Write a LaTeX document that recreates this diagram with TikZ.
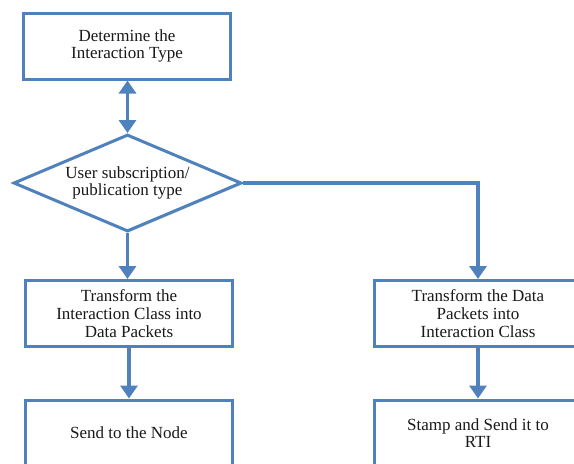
\documentclass[tikz,border=0pt]{standalone}
\usepackage{fontspec}
\setmainfont{Liberation Serif}
\usetikzlibrary{arrows.meta,shapes.geometric,shadows}
\newlength{\du}
\setlength{\du}{1pt}

\begin{document}
\begin{tikzpicture}[even odd rule]
\pgftransformxscale{1.000000}
\pgftransformyscale{-1.000000}
\definecolor{dialinecolor}{rgb}{0.309804, 0.505882, 0.741176}
\definecolor{diafillcolor}{rgb}{1.000000, 1.000000, 1.000000}
\definecolor{diatextcolor}{rgb}{0.100000, 0.100000, 0.100000}
\tikzset{
  diashape/.style={draw=dialinecolor, fill=diafillcolor, line width=3\du,
    inner sep=0pt, align=center, text=diatextcolor,
    font=\fontsize{17}{17.7}\selectfont,
    drop shadow={opacity=0.25, shadow xshift=1.5\du, shadow yshift=-1.5\du}},
  diabox/.style={diashape, rectangle, minimum width=207\du, minimum height=66\du},
  diadecision/.style={diashape, diamond, aspect=2.35, minimum width=228\du, minimum height=97\du},
  diatip/.tip={Triangle[width=17pt,length=13pt]},
  diaflow/.style={draw=dialinecolor, line width=3.5\du, -diatip},
}
\useasboundingbox (0\du,0\du) rectangle (574\du,464\du);
\clip (0\du,0\du) rectangle (574\du,464\du);
% setfont left to latex
\node[diabox] (dtype) at (127\du,46\du) {Determine the\\Interaction Type};
\node[diadecision] (usub) at (127.5\du,183\du) {User subscription/\\publication type};
\node[diabox] (topkt) at (129\du,313.5\du) {Transform the\\Interaction Class into\\Data Packets};
\node[diabox] (tocls) at (478\du,313.5\du) {Transform the Data\\Packets into\\Interaction Class};
\node[diabox] (sendnode) at (129\du,433\du) {Send to the Node};
\node[diabox] (stamprti) at (478\du,433\du) {Stamp and Send it to\\RTI};
% flow lines
\draw[diaflow, diatip-diatip] (usub.north |- dtype.south) -- (usub.north);
\draw[diaflow] (usub.south) -- (usub.south |- topkt.north);
\draw[diaflow] (usub.east) -| (tocls.north);
\draw[diaflow] (topkt.south) -- (sendnode.north);
\draw[diaflow] (tocls.south) -- (stamprti.north);
\end{tikzpicture}
\end{document}
